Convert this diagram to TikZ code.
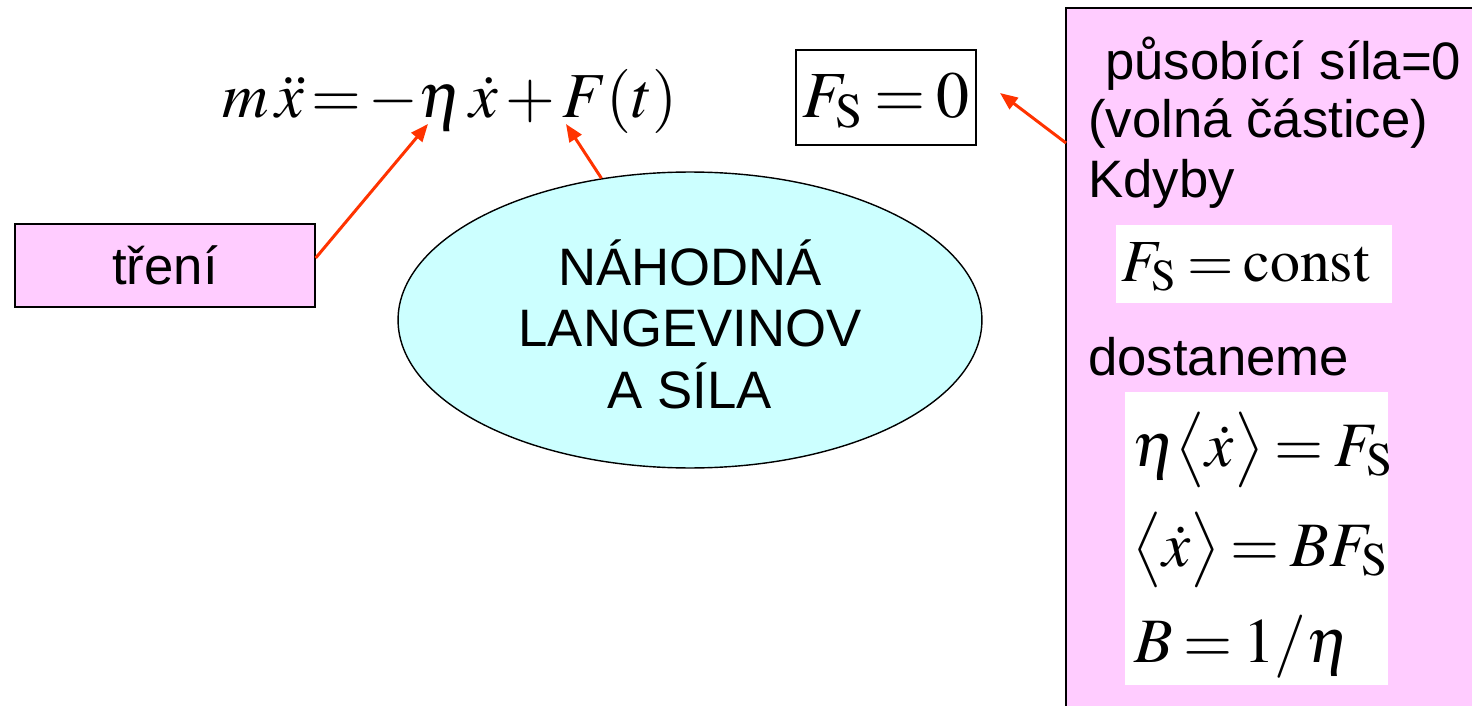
\documentclass[tikz,border=0pt]{standalone}
\usepackage{mathptmx}
\usepackage{fontspec}
\setmainfont{Liberation Sans}
\usetikzlibrary{arrows.meta,shapes.geometric}
\definecolor{pinkfill}{HTML}{FFCCFF}
\definecolor{cyanfill}{HTML}{CCFFFF}
\definecolor{arrowred}{HTML}{FF3300}
\thickmuskip=3mu
\medmuskip=2.5mu
\tikzset{
  px/.style={x=0.02cm,y=-0.02cm},
  conn/.style={draw=arrowred,line width=1.7pt,-{Triangle[length=10pt,width=8pt]}},
  txt/.style={font=\fontsize{30}{33}\selectfont,inner sep=0pt},
  bigmath/.style={font=\fontsize{37.5}{44}\selectfont,inner sep=0pt},
  midmath/.style={font=\fontsize{34}{38}\selectfont,inner sep=0pt},
  boxmath/.style={font=\fontsize{36}{44}\selectfont,inner sep=0pt},
}
\begin{document}
\begin{tikzpicture}[px]
\useasboundingbox (0,0) rectangle (1472,706);
\fill[white] (0,0) rectangle (1472,706);
% magenta panel
\draw[fill=pinkfill,line width=1.1pt] (1066,8) rectangle (1490,730);
\node[txt,anchor=base west] (t1) at (1105,80) {působící síla=0};
\node[txt,anchor=base west] (t2) at (1088,138) {(volná částice)};
\node[txt,anchor=base west] (t3) at (1088,197) {Kdyby};
\node[fill=white,minimum width=5.52cm,minimum height=1.56cm,inner sep=0pt] (cbox) at (1254,264) {};
\node[midmath,anchor=base west] (fsc) at (1121,281) {$F_{\mathrm{S}} = \mathrm{const}$};
\node[txt,anchor=base west] (t4) at (1088,375) {dostaneme};
\node[fill=white,minimum width=5.26cm,minimum height=5.86cm,inner sep=0pt] (ebox) at (1256.5,538.5) {};
\node[boxmath,anchor=base west] (e1) at (1132,466) {$\eta\bigl\langle\dot x\bigr\rangle = F_{\mathrm{S}}$};
\node[boxmath,anchor=base west] (e2) at (1132,566) {$\bigl\langle\dot x\bigr\rangle = BF_{\mathrm{S}}$};
\node[boxmath,anchor=base west] (e3) at (1134,662) {$B = 1/\eta$};
% main equation
\node[bigmath,anchor=base west,font=\fontsize{36.5}{44}\selectfont] (eq) at (222,118) {\thickmuskip=2mu\medmuskip=2mu$m\,\ddot x = -\eta\,\dot x + F(t)$};
\coordinate (etaend) at (428,124);
\coordinate (fend) at (566,124);
% F_S = 0 box
\node[draw,line width=1.1pt,minimum width=3.6cm,minimum height=1.9cm,inner sep=0pt] (fs0box) at (886,97.5) {};
\node[bigmath,anchor=base] (fs0) at (886,118) {$F_{\mathrm{S}} = 0$};
\coordinate (fs0end) at (1000,93);
\coordinate (panelstart) at (1066,143);
% treni box
\node[draw,fill=pinkfill,line width=0.8pt,minimum width=6cm,minimum height=1.66cm,txt] (treni) at (165,265.5) {tření};
% ellipse
\node[ellipse,draw,fill=cyanfill,line width=0.8pt,minimum width=11.68cm,minimum height=5.92cm,inner sep=0pt] (ell) at (690,320) {};
\node[txt,align=center,font=\fontsize{30}{35}\selectfont] (elltxt) at (690,324) {NÁHODNÁ\\LANGEVINOV\\A SÍLA};
% connectors
\draw[conn] (treni.east |- 0,258) -- (etaend);
\draw[conn] (ell.122) -- (fend);
\draw[conn] (panelstart) -- (fs0end);
\end{tikzpicture}
\end{document}
